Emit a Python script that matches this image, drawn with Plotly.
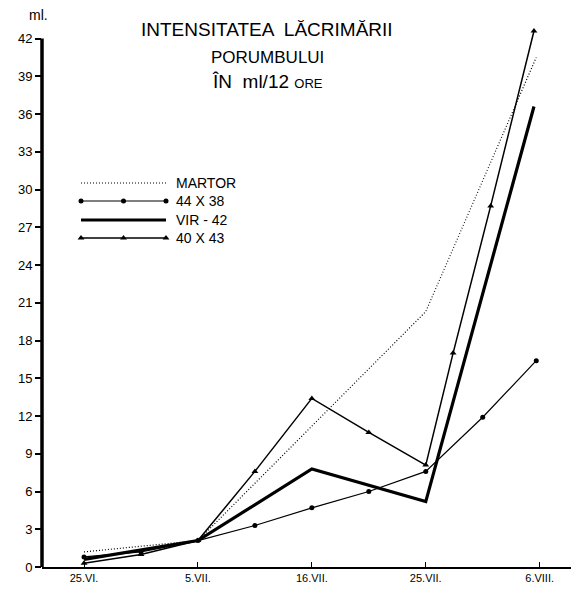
import plotly.graph_objects as go

# Sampling dates (equally spaced along the horizontal axis)
date_labels = ["25.VI.", "5.VII.", "16.VII.", "25.VII.", "6.VIII."]
date_pos = [0, 1, 2, 3, 4]

# Series: position along the date axis and tear volume in ml per 12 hours
martor_x = [0, 1, 2, 3, 3.97]
martor_y = [1.2, 2.1, 11.2, 20.3, 40.5]

h4438_x = [0, 0.5, 1, 1.5, 2, 2.5, 3, 3.5, 3.97]
h4438_y = [0.8, 1.2, 2.1, 3.3, 4.7, 6.0, 7.6, 11.9, 16.4]

vir42_x = [0, 1, 2, 3, 3.95]
vir42_y = [0.6, 2.1, 7.8, 5.2, 36.6]

h4043_x = [0, 0.5, 1, 1.5, 2, 2.5, 3, 3.24, 3.57, 3.95]
h4043_y = [0.3, 1.0, 2.1, 7.6, 13.4, 10.7, 8.1, 17.0, 28.7, 42.6]

y_ticks = list(range(0, 43, 3))

FONT = "Liberation Sans"
INK = "black"
DOTS = "1px,2px"

# Page geometry of the plot area (pixels)
W, H = 571, 590
PL, PR, PT, PB = 42, 0, 26, 23
PW, PH = W - PL - PR, H - PT - PB


def px(xp):
    return (xp - PL) / PW


def py(yp):
    return (H - PB - yp) / PH


fig = go.Figure()

fig.add_trace(go.Scatter(x=martor_x, y=martor_y, mode="lines",
                         line=dict(color=INK, width=1.2, dash=DOTS),
                         name="MARTOR"))
fig.add_trace(go.Scatter(x=h4438_x, y=h4438_y, mode="lines+markers",
                         line=dict(color=INK, width=1.2),
                         marker=dict(symbol="circle", size=5, color=INK),
                         cliponaxis=False, name="44 X 38"))
fig.add_trace(go.Scatter(x=vir42_x, y=vir42_y, mode="lines",
                         line=dict(color=INK, width=3.2),
                         name="VIR - 42"))
fig.add_trace(go.Scatter(x=h4043_x, y=h4043_y, mode="lines+markers",
                         line=dict(color=INK, width=1.5),
                         marker=dict(symbol="triangle-up", size=6, color=INK),
                         cliponaxis=False, name="40 X 43"))

# Hand-drawn style key, placed on an overlay axis in plot-area fractions
key_x0, key_x1 = px(81), px(166)
key_mid = (key_x0 + key_x1) / 2
key_rows = [
    ("MARTOR", py(183), dict(color=INK, width=1.2, dash=DOTS), None),
    ("44 X 38", py(201), dict(color=INK, width=1.2), "circle"),
    ("VIR - 42", py(220), dict(color=INK, width=3.2), None),
    ("40 X 43", py(238), dict(color=INK, width=1.5), "triangle-up"),
]
for label, yy, ln, sym in key_rows:
    fig.add_trace(go.Scatter(
        x=[key_x0, key_mid, key_x1], y=[yy, yy, yy],
        mode="lines+markers" if sym else "lines",
        line=ln,
        marker=dict(symbol=sym or "circle", size=5 if sym == "circle" else 6, color=INK),
        xaxis="x2", yaxis="y2", showlegend=False, hoverinfo="skip"))
    fig.add_annotation(x=px(174), y=yy, xref="x2", yref="y2",
                       text=label, showarrow=False, xanchor="left", yanchor="middle",
                       font=dict(family=FONT, size=14, color=INK))

# Title
title_lines = [
    ("INTENSITATEA  LĂCRIMĂRII", 30, 19),
    ("PORUMBULUI", 58, 17),
    ("ÎN  ml/12 <span style='font-size:13px'>ORE</span>", 82, 19),
]
for txt, yp, size in title_lines:
    fig.add_annotation(x=px(267), y=py(yp), xref="paper", yref="paper",
                       text=txt, showarrow=False, xanchor="center", yanchor="middle",
                       font=dict(family=FONT, size=size, color=INK))

# Unit label above the vertical axis
fig.add_annotation(x=px(27), y=py(15), xref="paper", yref="paper",
                   text="ml.", showarrow=False, xanchor="left", yanchor="middle",
                   font=dict(family=FONT, size=14, color=INK))

# Heavy vertical axis line from 0 to 42
fig.add_shape(type="line", xref="paper", yref="y", x0=0, x1=0, y0=0, y1=42,
              line=dict(color=INK, width=3.5))

fig.update_layout(
    width=W, height=H,
    margin=dict(l=PL, r=PR, t=PT, b=PB),
    paper_bgcolor="white", plot_bgcolor="white",
    showlegend=False,
    font=dict(family=FONT, color=INK),
    xaxis=dict(range=[-0.369, 4.275], tickvals=date_pos, ticktext=date_labels,
               showgrid=False, zeroline=False, showline=True, linecolor=INK,
               linewidth=2, ticks="inside", ticklen=5, tickwidth=1.2, tickcolor=INK,
               tickfont=dict(family=FONT, size=11, color=INK)),
    yaxis=dict(range=[0, 43], tickvals=y_ticks, showgrid=False, zeroline=False,
               showline=False, ticks="outside", ticklen=6, tickwidth=2, tickcolor=INK,
               tickfont=dict(family=FONT, size=13, color=INK)),
    xaxis2=dict(range=[0, 1], overlaying="x", visible=False, fixedrange=True),
    yaxis2=dict(range=[0, 1], overlaying="y", visible=False, fixedrange=True),
)

fig.write_html("out.html")
